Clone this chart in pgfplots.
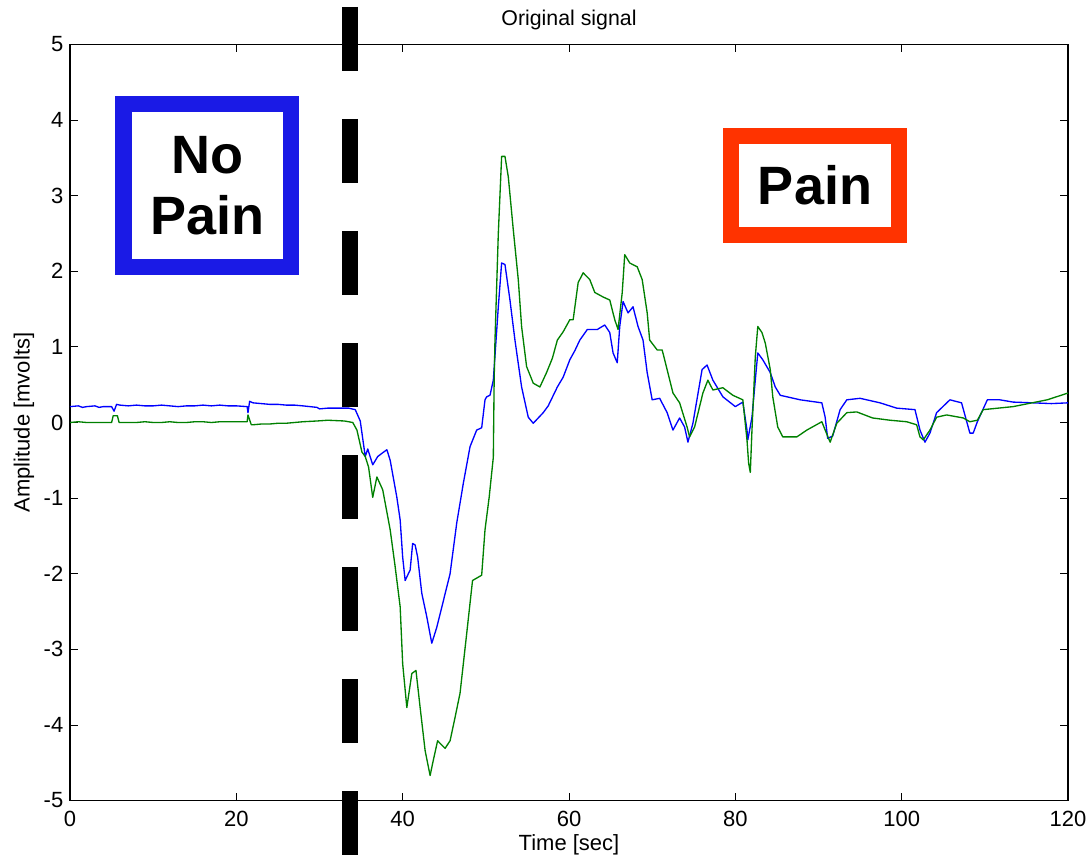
\documentclass[border=0pt]{standalone}
\usepackage{fontspec}
\setmainfont{Liberation Sans}
\usepackage{pgfplots}
\pgfplotsset{compat=1.18}
\definecolor{boxblue}{RGB}{26,26,230}
\definecolor{boxred}{RGB}{255,51,0}
\definecolor{mblue}{RGB}{0,0,255}
\definecolor{mgreen}{RGB}{0,128,0}
\begin{document}
\begin{tikzpicture}
\begin{axis}[
  scale only axis, width=748.5pt, height=567pt,
  at={(0,0)}, anchor=south west,
  xmin=0, xmax=120, ymin=-5, ymax=5,
  xtick={0,20,...,120}, ytick={-5,-4,...,5},
  xtick pos=both, ytick pos=both,
  xticklabel pos=bottom, yticklabel pos=left,
  tick align=inside, major tick length=6pt,
  tick style={black, line width=0.6pt},
  axis line style={line width=0.8pt},
  /pgf/number format/assume math mode=true,
  ticklabel style={font=\fontsize{16.5pt}{18pt}\selectfont},
  xticklabel style={yshift=-4.5pt},
  yticklabel style={xshift=-1.5pt},
  xlabel={Time [sec]}, ylabel={Amplitude [mvolts]}, title={Original signal},
  every axis x label/.style={at={(axis description cs:0.5,-0.0589)}, anchor=center, font=\fontsize{16.5pt}{18pt}\selectfont},
  every axis y label/.style={at={(axis description cs:-0.0461,0.5)}, anchor=center, rotate=90, font=\fontsize{16.5pt}{18pt}\selectfont},
  every axis title/.style={at={(axis description cs:0.5,1.0324)}, anchor=center, font=\fontsize{16pt}{18pt}\selectfont},
  clip=false,
]
% blue signal
\addplot[mblue, line width=1pt, line join=round] coordinates {
(0,0.21) (1,0.22) (1.5,0.2) (2,0.21) (3,0.22) (3.5,0.2) (4,0.21) (5.0,0.21) (5.3,0.15) (5.6,0.24) (6,0.23) (7,0.22) (8,0.23) (9,0.22) (10,0.22) (11,0.23) (12,0.22) (13,0.21) (14,0.22) (15,0.22) (16,0.23) (17,0.22) (18,0.23) (19,0.22) (20,0.22) (21.3,0.21) (21.4,0.13) (21.6,0.28) (22,0.26) (23,0.25) (24,0.24) (25,0.24) (26,0.23) (27,0.23) (28,0.22) (29.7,0.2) (30,0.18) (31,0.19) (32,0.19) (33.5,0.19) (34.3,0.17) (34.9,0.02) (35.5,-0.45) (35.8,-0.35) (36.4,-0.56) (37.0,-0.45) (37.6,-0.40) (38.1,-0.36) (38.5,-0.5) (39.3,-0.99) (39.7,-1.29) (40.0,-1.78) (40.3,-2.09) (40.6,-2.02) (40.9,-1.95) (41.2,-1.6) (41.5,-1.62) (41.8,-1.78) (42.3,-2.26) (42.9,-2.57) (43.5,-2.92) (44.1,-2.71) (44.8,-2.4) (45.7,-2.0) (46.5,-1.33) (47.3,-0.8) (48.1,-0.32) (48.9,-0.1) (49.5,-0.07) (49.9,0.3) (50.1,0.34) (50.5,0.36) (50.9,0.56) (51.5,1.53) (51.9,2.11) (52.3,2.09) (52.9,1.62) (53.5,1.09) (54.3,0.47) (55.1,0.07) (55.7,-0.01) (56.9,0.13) (57.5,0.22) (58.6,0.47) (59.3,0.6) (60.1,0.83) (60.7,0.95) (61.3,1.09) (62.2,1.23) (63.4,1.23) (64.3,1.29) (64.9,1.19) (65.3,0.92) (65.8,0.79) (66.1,1.27) (66.5,1.6) (67.1,1.45) (67.7,1.53) (68.3,1.27) (68.9,1.09) (69.4,0.66) (70.0,0.3) (70.9,0.32) (71.8,0.13) (72.5,-0.1) (73.3,0.06) (73.9,-0.06) (74.3,-0.26) (74.9,-0.01) (76.0,0.7) (76.6,0.76) (77.3,0.56) (78.5,0.34) (80.0,0.21) (80.9,0.27) (81.4,-0.1) (81.5,-0.23) (82.0,0.07) (82.4,0.56) (82.7,0.92) (83.3,0.83) (84.2,0.66) (84.8,0.47) (85.4,0.36) (87.8,0.3) (90.4,0.26) (90.8,0.07) (91.1,-0.21) (91.7,-0.18) (92.6,0.17) (93.4,0.3) (95.0,0.32) (97.4,0.26) (99.4,0.19) (101.6,0.17) (102.2,-0.1) (102.8,-0.26) (103.4,-0.14) (104.2,0.13) (105.8,0.3) (107.2,0.26) (107.6,0.1) (108.2,-0.14) (108.6,-0.14) (109.1,0.01) (110.3,0.3) (111.8,0.3) (113.4,0.27) (115.8,0.26) (118,0.25) (120,0.26)
};
% green signal
\addplot[mgreen, line width=1pt, line join=round] coordinates {
(0,0.0) (1,0.01) (2,0.0) (3,0.0) (4,0.0) (5.0,0.0) (5.2,0.09) (5.7,0.09) (5.9,0.0) (7,0.0) (8,0.0) (9,0.01) (10,0.0) (11,0.0) (12,0.01) (13,0.0) (14,0.0) (15,0.01) (16,0.01) (17,0.0) (18,0.01) (19,0.01) (20,0.01) (21.3,0.01) (21.4,0.1) (21.8,-0.03) (22,-0.03) (23,-0.02) (24,-0.02) (25,-0.01) (26,-0.01) (27,0.0) (28,0.01) (29.7,0.02) (31,0.03) (33,0.02) (34,0.0) (34.5,-0.1) (35.1,-0.39) (35.5,-0.45) (35.9,-0.59) (36.4,-0.99) (36.9,-0.72) (37.6,-0.89) (38.5,-1.42) (39.1,-1.91) (39.7,-2.44) (40.0,-3.19) (40.5,-3.77) (41.1,-3.32) (41.6,-3.28) (42.1,-3.77) (42.7,-4.34) (43.3,-4.67) (43.6,-4.51) (44.2,-4.21) (45.1,-4.31) (45.7,-4.21) (46.3,-3.9) (46.9,-3.58) (47.7,-2.79) (48.4,-2.09) (49.5,-2.02) (49.9,-1.42) (50.4,-0.99) (50.9,-0.46) (51.0,0.56) (51.1,1.09) (51.5,2.5) (51.9,3.52) (52.3,3.52) (52.7,3.25) (53.3,2.55) (53.9,1.89) (54.3,1.27) (54.9,0.74) (55.7,0.52) (56.5,0.47) (57.3,0.66) (58,0.85) (58.6,1.09) (59.3,1.2) (60.1,1.36) (60.5,1.36) (61.1,1.85) (61.7,1.98) (62.5,1.89) (63.1,1.72) (64.1,1.66) (64.9,1.62) (65.5,1.36) (65.9,1.23) (66.4,1.72) (66.7,2.22) (67.3,2.11) (68.2,2.06) (68.8,1.89) (69.4,1.45) (69.7,1.09) (70.6,0.96) (71.2,0.96) (71.8,0.7) (72.5,0.39) (73.3,0.26) (74.2,-0.06) (74.5,-0.19) (75.1,-0.06) (76.1,0.39) (76.7,0.56) (77.3,0.43) (78.5,0.46) (79.7,0.36) (80.9,0.3) (81.4,-0.23) (81.6,-0.54) (81.8,-0.66) (82.0,-0.1) (82.4,0.87) (82.7,1.27) (83.2,1.19) (83.6,1.05) (84.2,0.7) (84.5,0.34) (85.1,-0.06) (85.7,-0.19) (87.4,-0.19) (88.6,-0.1) (90.4,0.01) (90.8,-0.1) (91.4,-0.26) (92.2,-0.01) (93.4,0.13) (94.6,0.14) (96.5,0.06) (98.6,0.03) (100.6,0.01) (101.8,-0.03) (102.2,-0.19) (102.6,-0.23) (103.4,-0.1) (104.2,0.07) (105.4,0.1) (107.4,0.06) (108.2,0.01) (109.1,0.03) (109.8,0.17) (113.4,0.21) (117.5,0.3) (120,0.39)
};
% dashed separator
\addplot[black, line width=12pt, line cap=butt, dash pattern=on 48pt off 36pt] coordinates {(33.67,5.496) (33.67,-5.721)};
% annotation boxes
\node[draw=boxblue, line width=12.4pt, minimum width=125.6pt, minimum height=122.25pt, inner sep=0pt, align=center,
      font=\fontsize{40.5pt}{45.75pt}\selectfont\bfseries] at (axis cs:16.5,3.135) {No\\Pain};
\node[draw=boxred, line width=12pt, minimum width=125.55pt, minimum height=74.4pt, inner sep=0pt,
      font=\fontsize{40.5pt}{45.75pt}\selectfont\bfseries] at (axis cs:89.58,3.136) {Pain};
\end{axis}
\pgfresetboundingbox
\useasboundingbox (-52.5pt,-43.125pt) rectangle (765.75pt,600.375pt);
\end{tikzpicture}
\end{document}
